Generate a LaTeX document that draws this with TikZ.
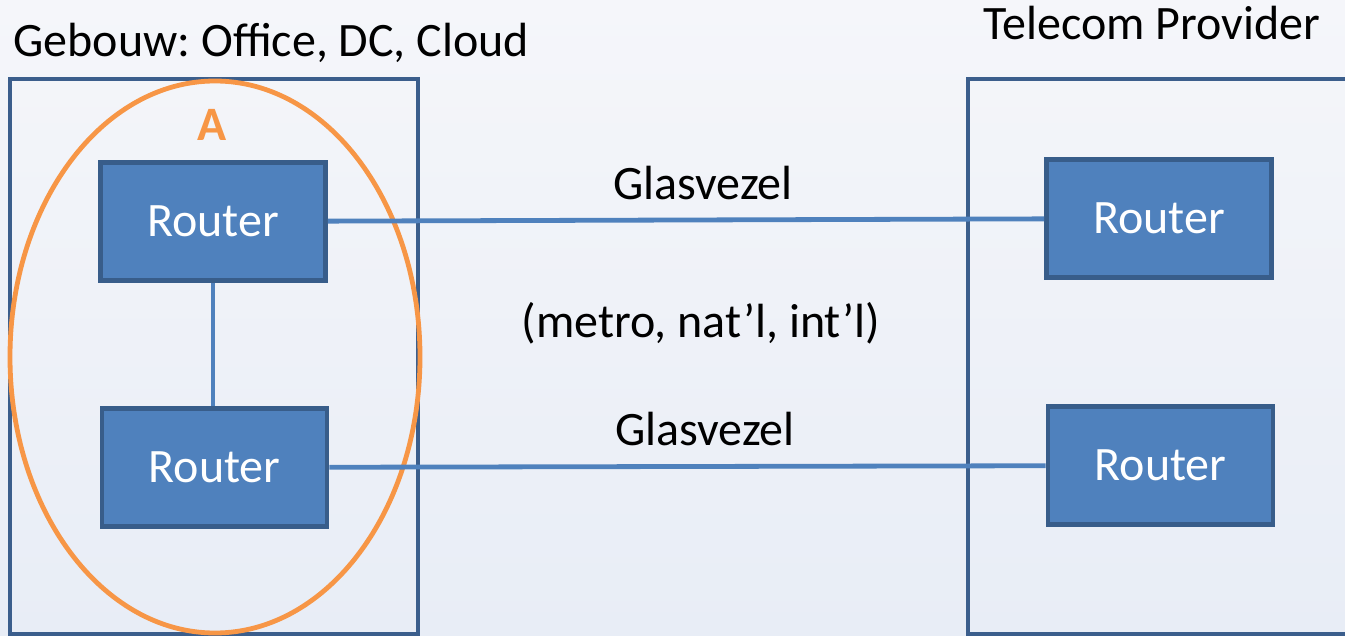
\documentclass[tikz,border=0pt]{standalone}
\usepackage{fontspec}
\setmainfont{Carlito}
\usetikzlibrary{positioning}
\frenchspacing

\definecolor{routerblue}{RGB}{79,129,189}
\definecolor{routeredge}{RGB}{56,93,138}
\definecolor{framecol}{RGB}{59,94,140}
\definecolor{zoneorange}{RGB}{247,150,70}
\definecolor{bgtop}{RGB}{245,246,250}
\definecolor{bgbottom}{RGB}{232,237,246}

\begin{document}
\begin{tikzpicture}[x=0.5pt,y=-0.5pt,
    every node/.style={font=\fontsize{24}{28}\selectfont},
    router/.style={draw=routeredge, fill=routerblue, line width=2.4pt, text=white,
        minimum width=112.5pt, minimum height=59pt, inner sep=0pt},
    site/.style={draw=framecol, line width=2.4pt},
    zone/.style={draw=zoneorange, line width=2.4pt},
    fibre/.style={draw=routerblue, line width=2.4pt},
    caption/.style={anchor=base, inner sep=0pt, text=black}]

% background
\useasboundingbox (0,0) rectangle (1345,636);
\shade[top color=bgtop, bottom color=bgbottom] (0,0) rectangle (1345,636);

% building and provider frames
\draw[site] (10,79) rectangle (418,634);
\draw[site] (1360,79) -- (968,79) -- (968,634) -- (1360,634);
\draw[zone] (215,357) ellipse [x radius=102.5pt, y radius=138pt];

% routers
\node[router] (gwtop) at (213,221.5) {Router};
\node[router] (gwbot) at (214.5,467.5) {Router};
\node[router] (tptop) at (1159,218.5) {Router};
\node[router] (tpbot) at (1160.5,465.5) {Router};

% links
\draw[fibre] (gwtop.south) -- (gwtop.south |- gwbot.north);
\draw[fibre] (gwtop) -- (tptop);
\draw[fibre] (gwbot) -- (tpbot);

% texts
\node[caption, anchor=base west] (gebouw) at (13,57) {Gebouw: Office, DC, Cloud};
\node[caption] (provider) at (1152,40) {Telecom Provider};
\node[caption, text=zoneorange, font=\fontsize{24}{28}\selectfont\bfseries] (zoneA) at (212,141) {A};
\node[caption] (glastop) at (703,200) {Glasvezel};
\node[caption] (reach) at (701,338) {(metro, nat’l, int’l)};
\node[caption] (glasbot) at (705,445) {Glasvezel};

\end{tikzpicture}
\end{document}
